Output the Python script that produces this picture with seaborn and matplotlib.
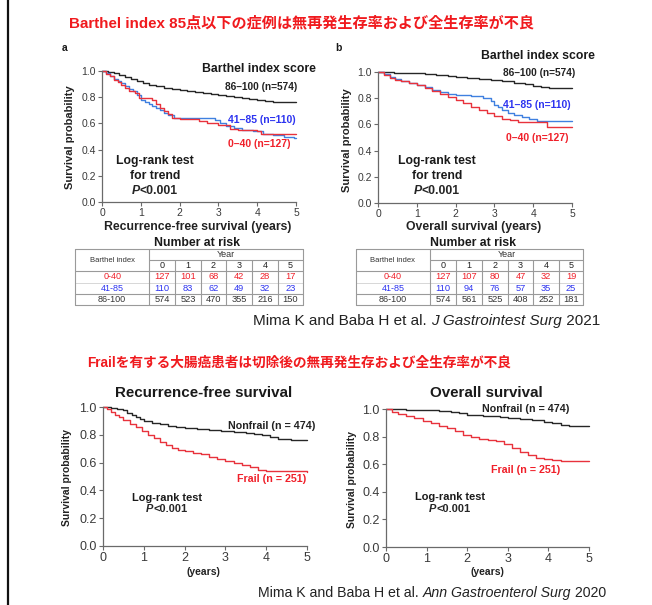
import matplotlib
matplotlib.use("Agg")
import matplotlib.pyplot as plt
import seaborn as sns
import pandas as pd
from matplotlib.lines import Line2D

# ---------------- data ----------------
# Panel a: recurrence-free survival by Barthel index
rfs_hi_t = [0, 0.15, 0.3, 0.45, 0.6, 0.75, 0.9, 1.05, 1.2, 1.4, 1.6, 1.8, 2.0, 2.2, 2.4, 2.6, 2.8, 3.0, 3.2, 3.4, 3.6, 3.8, 4.0, 4.2, 4.4, 4.6, 4.8, 5.0]
rfs_hi_s = [1.0, 0.995, 0.985, 0.97, 0.955, 0.94, 0.925, 0.91, 0.895, 0.885, 0.872, 0.862, 0.853, 0.845, 0.838, 0.832, 0.823, 0.815, 0.808, 0.803, 0.797, 0.79, 0.78, 0.772, 0.765, 0.762, 0.76, 0.76]
rfs_mid_t = [0, 0.1, 0.2, 0.3, 0.4, 0.5, 0.6, 0.7, 0.8, 0.9, 1.0, 1.1, 1.2, 1.3, 1.4, 1.5, 1.6, 1.7, 1.85, 2.9, 3.05, 3.2, 3.4, 3.6, 3.9, 4.15, 4.4, 4.7, 4.95, 5.0]
rfs_mid_s = [1.0, 0.985, 0.96, 0.94, 0.92, 0.905, 0.885, 0.865, 0.845, 0.82, 0.78, 0.765, 0.75, 0.735, 0.715, 0.70, 0.68, 0.665, 0.645, 0.625, 0.6, 0.58, 0.565, 0.55, 0.54, 0.52, 0.508, 0.50, 0.485, 0.485]
rfs_lo_t = [0, 0.1, 0.2, 0.3, 0.4, 0.5, 0.6, 0.7, 0.85, 0.95, 1.3, 1.4, 1.5, 1.6, 1.7, 1.8, 2.0, 2.5, 2.7, 3.0, 3.3, 3.5, 4.0, 4.1, 5.0]
rfs_lo_s = [1.0, 0.98, 0.96, 0.935, 0.915, 0.895, 0.87, 0.85, 0.83, 0.795, 0.775, 0.745, 0.72, 0.695, 0.67, 0.645, 0.635, 0.62, 0.60, 0.585, 0.56, 0.55, 0.54, 0.52, 0.52]

# Panel b: overall survival by Barthel index
os_hi_t = [0, 0.4, 0.8, 1.2, 1.5, 1.8, 2.0, 2.3, 2.6, 2.9, 3.2, 3.5, 3.8, 4.0, 4.2, 4.4, 5.0]
os_hi_s = [1.0, 0.995, 0.99, 0.985, 0.978, 0.97, 0.962, 0.955, 0.948, 0.94, 0.93, 0.918, 0.905, 0.893, 0.882, 0.875, 0.875]
os_mid_t = [0, 0.15, 0.3, 0.45, 0.6, 0.8, 1.0, 1.2, 1.4, 1.6, 1.8, 2.0, 2.4, 2.7, 2.9, 3.0, 3.1, 3.2, 3.35, 3.5, 3.7, 3.9, 4.1, 5.0]
os_mid_s = [1.0, 0.985, 0.965, 0.945, 0.93, 0.915, 0.9, 0.885, 0.865, 0.85, 0.835, 0.825, 0.815, 0.80, 0.78, 0.75, 0.73, 0.71, 0.69, 0.675, 0.655, 0.64, 0.628, 0.628]
os_lo_t = [0, 0.15, 0.3, 0.45, 0.6, 0.8, 1.0, 1.2, 1.4, 1.6, 1.8, 2.0, 2.2, 2.4, 2.6, 2.8, 3.0, 3.2, 3.4, 3.6, 4.2, 4.35, 5.0]
os_lo_s = [1.0, 0.975, 0.955, 0.94, 0.93, 0.915, 0.9, 0.875, 0.855, 0.835, 0.81, 0.785, 0.76, 0.735, 0.71, 0.685, 0.665, 0.645, 0.63, 0.62, 0.62, 0.58, 0.58]

# Panel c: recurrence-free survival by frailty
frs_non_t = [0, 0.2, 0.35, 0.5, 0.6, 0.7, 0.8, 0.9, 1.0, 1.2, 1.4, 1.6, 1.8, 2.0, 2.3, 2.6, 2.9, 3.2, 3.5, 3.7, 3.9, 4.1, 4.3, 4.6, 5.0]
frs_non_s = [1.0, 0.995, 0.985, 0.975, 0.96, 0.945, 0.93, 0.915, 0.9, 0.888, 0.876, 0.865, 0.855, 0.848, 0.84, 0.832, 0.825, 0.82, 0.812, 0.805, 0.795, 0.783, 0.772, 0.765, 0.765]
frs_fr_t = [0, 0.1, 0.2, 0.3, 0.4, 0.5, 0.65, 0.8, 0.95, 1.1, 1.25, 1.4, 1.55, 1.7, 1.85, 2.0, 2.2, 2.4, 2.6, 2.8, 3.0, 3.2, 3.4, 3.6, 3.8, 4.0, 4.9, 5.0]
frs_fr_s = [1.0, 0.985, 0.965, 0.945, 0.925, 0.91, 0.88, 0.855, 0.83, 0.8, 0.775, 0.75, 0.725, 0.705, 0.69, 0.68, 0.67, 0.66, 0.64, 0.625, 0.61, 0.595, 0.58, 0.565, 0.55, 0.54, 0.54, 0.53]

# Panel d: overall survival by frailty
fos_non_t = [0, 0.5, 1.0, 1.3, 1.6, 1.8, 2.0, 2.4, 2.8, 3.0, 3.3, 3.6, 3.9, 4.1, 4.3, 4.5, 5.0]
fos_non_s = [1.0, 0.995, 0.99, 0.985, 0.978, 0.97, 0.96, 0.952, 0.945, 0.935, 0.925, 0.918, 0.905, 0.895, 0.885, 0.88, 0.88]
fos_fr_t = [0, 0.15, 0.3, 0.5, 0.7, 0.9, 1.1, 1.3, 1.5, 1.7, 1.9, 2.1, 2.3, 2.5, 2.7, 2.9, 3.1, 3.3, 3.5, 3.7, 3.9, 4.1, 4.3, 5.0]
fos_fr_s = [1.0, 0.98, 0.965, 0.95, 0.935, 0.915, 0.895, 0.875, 0.86, 0.84, 0.815, 0.8, 0.785, 0.775, 0.765, 0.745, 0.715, 0.69, 0.665, 0.645, 0.638, 0.632, 0.625, 0.625]

# Number at risk tables
risk_years = ["0", "1", "2", "3", "4", "5"]
risk_groups = ["0-40", "41-85", "86-100"]
risk_rfs_lo = [127, 101, 68, 42, 28, 17]
risk_rfs_mid = [110, 83, 62, 49, 32, 23]
risk_rfs_hi = [574, 523, 470, 355, 216, 150]
risk_os_lo = [127, 107, 80, 47, 32, 19]
risk_os_mid = [110, 94, 76, 57, 35, 25]
risk_os_hi = [574, 561, 525, 408, 252, 181]

x_ticks = [0, 1, 2, 3, 4, 5]
y_ticks = [0.0, 0.2, 0.4, 0.6, 0.8, 1.0]
y_tick_labels = ["0.0", "0.2", "0.4", "0.6", "0.8", "1.0"]

# ---------------- style ----------------
W, H = 652, 605
sns.set_theme(style="ticks")
LAT = ['Liberation Sans', 'Noto Sans CJK JP', 'DejaVu Sans']
JP = ['Liberation Sans', 'Noto Sans CJK JP', 'DejaVu Sans']
plt.rcParams['font.family'] = LAT

C_RED_LINE = '#e8323c'
C_BLUE_LINE = '#3f80e0'
C_BLACK_LINE = '#262626'
C_RED_TXT = '#f0202a'
C_BLUE_TXT = '#2d34f0'
C_TITLE = '#f01a1e'

fig = plt.figure(figsize=(6.52, 6.05), dpi=100)
fig.patch.set_facecolor('white')


def fx(x):
    return x / W


def fy(y):
    return 1 - y / H


def T(x, y, s, size=8, weight='bold', color='#1a1a1a', ha='center', va='center', style='normal', family=None, rot=0):
    return fig.text(fx(x), fy(y), s, fontsize=size, fontweight=weight, color=color,
                    ha=ha, va=va, style=style, family=family if family else LAT, rotation=rot)


def km_axes(x0, ytop, x1, ybot, curves, tsize):
    ax = fig.add_axes([fx(x0), fy(ybot), (x1 - x0) / W, (ybot - ytop) / H])
    for t, s, c in curves:
        df = pd.DataFrame({'t': t, 's': s})
        sns.lineplot(data=df, x='t', y='s', drawstyle='steps-post', color=c, lw=1.0,
                     ax=ax, estimator=None, sort=False, legend=False, clip_on=False)
    ax.set_xlim(0, 5)
    ax.set_ylim(0, 1)
    ax.set_xticks(x_ticks)
    ax.set_yticks(y_ticks)
    ax.set_yticklabels(y_tick_labels)
    ax.set_xlabel('')
    ax.set_ylabel('')
    for sp in ['top', 'right']:
        ax.spines[sp].set_visible(False)
    for sp in ['left', 'bottom']:
        ax.spines[sp].set_color('#6a6a6a')
        ax.spines[sp].set_linewidth(0.9)
    ax.tick_params(direction='out', length=3, width=0.8, color='#6a6a6a',
                   labelsize=tsize, labelcolor='#3a3a3a', pad=1.5)
    ax.set_facecolor('none')
    return ax


renderer = fig.canvas.get_renderer()


def ptext(cx, y, size):
    # "P<0.001" with italic P, centred on cx
    a = fig.text(0, 0, 'P', fontsize=size, fontweight='bold', style='italic', family=LAT)
    b = fig.text(0, 0, '<0.001', fontsize=size, fontweight='bold', family=LAT)
    wa = a.get_window_extent(renderer).width
    wb = b.get_window_extent(renderer).width
    left = cx - (wa + wb) / 2
    a.set_position((fx(left), fy(y)))
    a.set_va('center')
    b.set_position((fx(left + wa), fy(y)))
    b.set_va('center')


def hline(x0, x1, y, c='#9a9a9a', lw=0.8):
    fig.add_artist(Line2D([fx(x0), fx(x1)], [fy(y), fy(y)], color=c, lw=lw, transform=fig.transFigure))


def vline(x, y0, y1, c='#9a9a9a', lw=0.8):
    fig.add_artist(Line2D([fx(x), fx(x)], [fy(y0), fy(y1)], color=c, lw=lw, transform=fig.transFigure))


def risk_table(x0, xc, xr, cols, rows, cx_title):
    top, yr, hdr, r1, r2, bot = 249, 260, 271, 283, 294, 305
    T(cx_title, 242.5, 'Number at risk', size=8.8)
    hline(x0, xr, top)
    hline(xc, xr, yr)
    hline(x0, xr, hdr)
    hline(x0, xr, r1, c='#c8c8c8', lw=0.5)
    hline(x0, xr, r2)
    hline(x0, xr, bot)
    vline(x0, top, bot)
    vline(xc, top, bot)
    vline(xr, top, bot)
    for cx in cols[1:-1]:
        vline(cx, yr, bot)
    T((x0 + xc) / 2, 260, 'Barthel index', size=5.5, weight='normal', color='#333333')
    T((xc + xr) / 2, 254.5, 'Year', size=6.5, weight='normal', color='#333333')
    for i, yl in enumerate(risk_years):
        T((cols[i] + cols[i + 1]) / 2, 265.7, yl, size=6.5, weight='normal', color='#222222')
    ys = [277, 288.7, 299.7]
    colors = [C_RED_TXT, C_BLUE_TXT, '#333333']
    for r, (vals, c, y, g) in enumerate(zip(rows, colors, ys, risk_groups)):
        T((x0 + xc) / 2, y, g, size=6.5, weight='normal', color=c)
        for i, v in enumerate(vals):
            T((cols[i] + cols[i + 1]) / 2, y, str(v), size=6.7, weight='normal', color=c)


def citation(x, y, pre, ital, post, size):
    T(x, y, pre, size=size, weight='normal', ha='left', color='#222222')
    w1 = fig.texts[-1].get_window_extent(renderer).width
    T(x + w1, y, ital, size=size, weight='normal', ha='left', style='italic', color='#222222')
    w2 = fig.texts[-1].get_window_extent(renderer).width
    T(x + w1 + w2, y, post, size=size, weight='normal', ha='left', color='#222222')


# ---------------- left border ----------------
fig.add_artist(Line2D([fx(8), fx(8)], [0, 1], color='#111111', lw=1.6, transform=fig.transFigure))

# ---------------- titles ----------------
T(301.5, 23, 'Barthel index 85点以下の症例は無再発生存率および全生存率が不良', size=10.9, color=C_TITLE, family=JP)
T(299.5, 363, 'Frailを有する大腸癌患者は切除後の無再発生存および全生存率が不良', size=9.85, color=C_TITLE, family=JP)

# ---------------- panel a ----------------
T(65, 48, 'a', size=7.5)
km_axes(102, 71, 296, 202, [(rfs_hi_t, rfs_hi_s, C_BLACK_LINE),
                            (rfs_mid_t, rfs_mid_s, C_BLUE_LINE),
                            (rfs_lo_t, rfs_lo_s, C_RED_LINE)], 7.5)
T(70, 137, 'Survival probability', size=8.0, rot=90, color='#222222')
T(198, 227, 'Recurrence-free survival (years)', size=8.8, color='#222222')
T(259, 69, 'Barthel index score', size=8.8)
T(297, 86.5, '86–100 (n=574)', size=7.3, ha='right', color='#222222')
T(296, 120, '41–85 (n=110)', size=7.5, ha='right', color=C_BLUE_TXT)
T(290, 144, '0–40 (n=127)', size=7.5, ha='right', color=C_RED_TXT)
T(155, 161, 'Log-rank test', size=8.8)
T(155, 176, 'for trend', size=8.8)
ptext(155, 191, 8.8)

# ---------------- panel b ----------------
T(338, 48, 'b', size=7.5)
km_axes(378, 72, 572, 203, [(os_hi_t, os_hi_s, C_BLACK_LINE),
                            (os_mid_t, os_mid_s, C_BLUE_LINE),
                            (os_lo_t, os_lo_s, C_RED_LINE)], 7.5)
T(347, 140, 'Survival probability', size=8.0, rot=90, color='#222222')
T(474, 227, 'Overall survival (years)', size=8.8, color='#222222')
T(538, 56, 'Barthel index score', size=8.8)
T(575, 73.5, '86–100 (n=574)', size=7.3, ha='right', color='#222222')
T(571, 105, '41–85 (n=110)', size=7.5, ha='right', color=C_BLUE_TXT)
T(569, 138, '0–40 (n=127)', size=7.5, ha='right', color=C_RED_TXT)
T(437, 161, 'Log-rank test', size=8.8)
T(437, 176, 'for trend', size=8.8)
ptext(437, 191, 8.8)

# ---------------- tables ----------------
risk_table(75, 149.3, 303.3, [149.3, 175, 200.7, 226.3, 252, 277.7, 303.3],
           [risk_rfs_lo, risk_rfs_mid, risk_rfs_hi], 196.7)
risk_table(355.7, 430, 583.3, [430, 456, 482, 508, 533, 558.7, 583.3],
           [risk_os_lo, risk_os_mid, risk_os_hi], 473)

citation(253, 321, 'Mima K and Baba H et al. ', 'J Gastrointest Surg', ' 2021', 11.0)

# ---------------- panel c ----------------
km_axes(103, 407, 307, 546, [(frs_non_t, frs_non_s, C_BLACK_LINE),
                             (frs_fr_t, frs_fr_s, C_RED_LINE)], 9)
T(204, 393, 'Recurrence-free survival', size=10.9)
T(67, 477, 'Survival probability', size=7.5, rot=90, color='#222222')
T(203, 572, '(years)', size=7.5, color='#222222')
T(315, 426, 'Nonfrail (n = 474)', size=7.7, ha='right', color='#222222')
T(306, 479, 'Frail (n = 251)', size=7.7, ha='right', color=C_RED_TXT)
T(167, 498, 'Log-rank test', size=7.9)
ptext(167, 509.5, 7.9)

# ---------------- panel d ----------------
km_axes(386, 409, 589, 547, [(fos_non_t, fos_non_s, C_BLACK_LINE),
                             (fos_fr_t, fos_fr_s, C_RED_LINE)], 9)
T(486, 393, 'Overall survival', size=10.9)
T(352, 480, 'Survival probability', size=7.5, rot=90, color='#222222')
T(487, 572, '(years)', size=7.5, color='#222222')
T(569, 409.5, 'Nonfrail (n = 474)', size=7.7, ha='right', color='#222222')
T(560, 470, 'Frail (n = 251)', size=7.7, ha='right', color=C_RED_TXT)
T(450, 497.5, 'Log-rank test', size=7.9)
ptext(450, 508.5, 7.9)

citation(258, 593, 'Mima K and Baba H et al. ', 'Ann Gastroenterol Surg', ' 2020', 10.2)

fig.savefig('out.png', dpi=100, facecolor='white')
